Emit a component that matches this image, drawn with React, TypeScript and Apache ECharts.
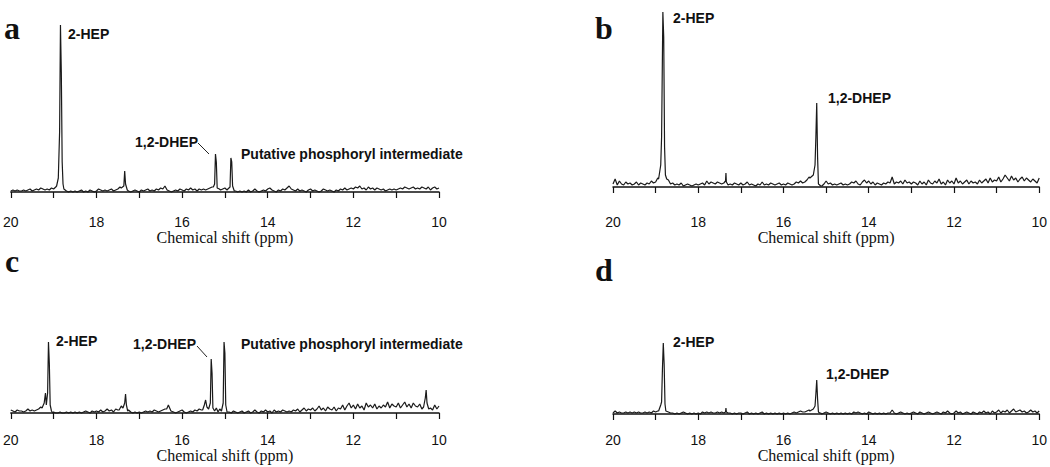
import React, { useEffect, useRef } from "react";
import * as echarts from "echarts";

// Chemical shift axis
const PPM_MIN = 10;
const PPM_MAX = 20;
const PPM_STEP = 0.05; // spacing of the baseline (noise) samples, from 20 down to 10
const tickLabels = ["20", "18", "16", "14", "12", "10"];
const axisName = "Chemical shift (ppm)";

// Baseline samples (arbitrary intensity), null where a peak list takes over
const noiseA = [
  1, 2, 1, 2, 1, 1, 2, 1, 2, 3,
  1, 2, 3, 2, 4, 3, 2, 3, 2, 4,
  3, 5, null, null, null, 3, 1, 0, 1, 0,
  1, 0, 1, 2, 0, 1, 0, 2, 1, 0,
  1, 3, 2, 1, 2, 1, 2, 3, 1, 2,
  3, 5, null, null, null, 1, 0, 1, 2, 1,
  0, 2, 1, 2, 3, 1, 2, 1, 3, 2,
  4, 3, 6, 2, 1, 0, 1, 2, 1, 3,
  2, 1, 3, 2, 4, 2, 3, 1, 3, 2,
  3, 2, 3, 4, 5, null, null, null, 2, 3,
  4, 2, null, null, null, 1, 0, 1, 0, 1,
  0, 2, 0, 1, 3, 1, 0, 1, 2, 1,
  3, 4, 2, 1, 0, 2, 1, 3, 2, 4,
  6, 3, 2, 1, 3, 1, 2, 1, 0, 2,
  3, 1, 2, 1, 0, 1, 3, 2, 1, 2,
  1, 0, 2, 1, 3, 2, 4, 2, 3, 4,
  3, 5, 4, 6, 3, 4, 2, 5, 3, 4,
  2, 4, 3, 2, 3, 1, 2, 3, 2, 3,
  2, 3, 4, 3, 5, 4, 3, 4, 5, 3,
  4, 3, 5, 4, 3, 5, 2, 4, 5, 3, 4,
];
const peaksA = [
  [18.93, 6], [18.89, 14], [18.86, 60], [18.84, 167], [18.82, 120], [18.8, 30], [18.78, 8], [18.76, 3],
  [17.42, 4], [17.36, 6], [17.34, 21], [17.32, 8], [17.28, 2],
  [15.27, 5], [15.24, 8], [15.22, 38], [15.2, 30], [15.18, 4], [15.13, 3],
  [14.93, 3], [14.88, 5], [14.86, 34], [14.84, 30], [14.82, 6], [14.78, 1],
];

const noiseB = [
  3, 8, 2, 6, 3, 2, 5, 3, 4, 2,
  3, 5, 2, 4, 3, 2, 4, 3, 6, 4,
  5, 9, null, null, null, null, 7, 3, 4, 2,
  3, 2, 4, 1, 2, 3, 2, 1, 2, 3,
  2, 3, 4, 2, 6, 3, 5, 4, 3, 5,
  4, 3, null, null, null, 3, 2, 4, 3, 2,
  4, 2, 3, 5, 2, 3, 2, 1, 3, 2,
  5, 2, 3, 2, 4, 3, 2, 3, 4, 2,
  3, 2, 4, 3, 2, 3, 5, 4, 6, 4,
  5, 7, 10, null, null, null, null, 2, 1, 3,
  6, 3, 4, 2, 3, 2, 3, 4, 2, 3,
  2, 3, 5, 4, 6, 3, 2, 5, 7, 4,
  6, 3, 5, 2, 4, 3, 2, 4, 3, 5,
  4, 10, 3, 5, 4, 6, 3, 7, 4, 5,
  3, 5, 4, 2, 6, 3, 5, 2, 7, 4,
  3, 6, 4, 8, 3, 5, 2, 7, 4, 6,
  3, 9, 4, 6, 3, 5, 7, 3, 6, 4,
  5, 3, 7, 4, 6, 8, 4, 9, 5, 7,
  6, 10, 5, 8, 12, 9, 6, 11, 7, 9,
  5, 8, 10, 6, 9, 7, 5, 8, 6, 4, 9,
];
const peaksB = [
  [18.93, 8], [18.88, 22], [18.86, 50], [18.83, 175], [18.81, 150], [18.79, 40], [18.77, 12], [18.74, 8],
  [17.4, 4], [17.36, 6], [17.35, 14], [17.34, 5], [17.3, 2],
  [15.38, 9], [15.3, 12], [15.26, 22], [15.24, 50], [15.22, 84], [15.2, 30], [15.18, 3], [15.13, 1],
];

const noiseC = [
  3, 2, 1, 3, 2, 2, 1, 2, 4, 2,
  3, 2, 3, 4, 6, null, null, null, null, null,
  1, 0, 0, 1, 0, 0, 1, 0, 1, 0,
  1, 0, 1, 0, 1, 2, 1, 0, 2, 1,
  2, 1, 3, 1, 2, 4, 2, 3, 1, 4,
  3, null, null, null, null, 3, 1, 0, 1, 0,
  1, 0, 1, 2, 1, 2, 1, 3, 2, 1,
  2, 3, 4, null, null, 2, 1, 0, 1, 2,
  3, 1, 0, 1, 2, 1, 3, 2, 4, 3,
  null, null, null, null, null, null, null, null, null, null,
  null, null, 1, 0, 2, 1, 0, 1, 2, 0,
  1, 2, 0, 1, 3, 1, 0, 2, 1, 3,
  1, 2, 0, 3, 1, 2, 1, 3, 2, 1,
  2, 1, 3, 2, 4, 1, 3, 5, 2, 4,
  3, 5, 2, 4, 7, 3, 5, 2, 6, 4,
  3, 6, 2, 5, 4, 8, 3, 7, 10, 5,
  8, 4, 9, 5, 7, 3, 10, 6, 8, 5,
  9, 4, 7, 5, 8, 6, 11, 5, 9, 7,
  6, 10, 5, 8, 11, 6, 9, 5, 10, 7,
  6, 9, 4, null, null, null, 5, 3, 8, 4, 7,
];
const peaksC = [
  [19.27, 5], [19.22, 10], [19.19, 20], [19.17, 8], [19.14, 20], [19.12, 71], [19.1, 50], [19.08, 8], [19.05, 2], [19.02, 0],
  [17.47, 3], [17.42, 7], [17.38, 5], [17.34, 10], [17.32, 19], [17.3, 8], [17.27, 2],
  [16.36, 4], [16.32, 8], [16.29, 5], [16.26, 2],
  [15.52, 3], [15.48, 8], [15.45, 13], [15.42, 6], [15.38, 4], [15.34, 10], [15.32, 54], [15.3, 40], [15.28, 5],
  [15.24, 2], [15.2, 5], [15.16, 1], [15.12, 4], [15.08, 2], [15.04, 10], [15.02, 71], [15.0, 60], [14.98, 8], [14.95, 1],
  [10.36, 6], [10.32, 15], [10.3, 23], [10.28, 10], [10.24, 4],
];

const noiseD = [
  1, 3, 1, 2, 1, 1, 2, 1, 2, 1,
  2, 1, 2, 1, 1, 2, 1, 2, 1, 3,
  2, 3, null, null, null, null, 2, 1, 1, 0,
  1, 0, 1, 2, 1, 0, 1, 0, 1, 0,
  1, 0, 2, 1, 2, 1, 2, 1, 1, 2,
  1, 2, null, null, null, 1, 0, 1, 0, 1,
  1, 0, 1, 2, 0, 1, 0, 1, 0, 1,
  2, 0, 1, 0, 1, 0, 1, 0, 1, 0,
  1, 0, 1, 0, 1, 2, 1, 2, 3, 2,
  2, 3, 4, null, null, null, null, 1, 0, 1,
  2, 1, 0, 1, 0, 1, 0, 1, 0, 1,
  0, 1, 0, 2, 1, 2, 1, 0, 1, 0,
  2, 1, 0, 1, 0, 1, 0, 1, 0, 1,
  1, 4, 1, 0, 1, 2, 1, 0, 1, 0,
  1, 2, 1, 0, 2, 1, 0, 1, 2, 1,
  0, 1, 2, 1, 0, 2, 1, 3, 1, 0,
  1, 3, 1, 2, 0, 1, 2, 1, 0, 2,
  1, 0, 2, 1, 3, 1, 2, 0, 3, 1,
  2, 4, 1, 3, 2, 4, 1, 3, 5, 2,
  3, 4, 2, 3, 1, 2, 4, 2, 3, 1, 3,
];
const peaksD = [
  [18.93, 3], [18.88, 9], [18.86, 12], [18.84, 45], [18.82, 71], [18.8, 50], [18.78, 10], [18.76, 3],
  [17.4, 1], [17.36, 2], [17.35, 6], [17.34, 2], [17.3, 1],
  [15.38, 3], [15.3, 5], [15.26, 8], [15.24, 20], [15.22, 34], [15.2, 15], [15.18, 2], [15.13, 1],
];

function buildSpectrum(noise: (number | null)[], peaks: number[][]) {
  const pts: number[][] = [];
  noise.forEach((v, i) => {
    if (v !== null) pts.push([+(PPM_MAX - i * PPM_STEP).toFixed(2), v]);
  });
  peaks.forEach((p) => pts.push([p[0], p[1]]));
  pts.sort((a, b) => b[0] - a[0]);
  return pts;
}

const panels = [
  { noise: noiseA, peaks: peaksA, grid: { left: 10, top: 12, width: 429, height: 193 }, yMin: -13, yMax: 180 },
  { noise: noiseB, peaks: peaksB, grid: { left: 613, top: 10, width: 430, height: 195 }, yMin: -18, yMax: 177 },
  { noise: noiseC, peaks: peaksC, grid: { left: 10, top: 330, width: 429, height: 93 }, yMin: -10, yMax: 83 },
  { noise: noiseD, peaks: peaksD, grid: { left: 613, top: 330, width: 430, height: 93 }, yMin: -9, yMax: 84 },
];

const SANS = "Arial, 'Liberation Sans', sans-serif";
const SERIF = "'Times New Roman', 'Liberation Serif', serif";

function letter(text: string, x: number, y: number) {
  return {
    type: "text",
    x,
    y,
    style: { text, fontFamily: SERIF, fontWeight: "bold", fontSize: 32, fill: "#111", verticalAlign: "middle", align: "left" },
  };
}
function note(text: string, x: number, y: number) {
  return {
    type: "text",
    x,
    y,
    style: { text, fontFamily: SANS, fontWeight: "bold", fontSize: 14, fill: "#111", verticalAlign: "middle", align: "left" },
  };
}
function leader(x1: number, y1: number, x2: number, y2: number) {
  return { type: "line", shape: { x1, y1, x2, y2 }, style: { stroke: "#222", lineWidth: 1 } };
}

export default function App() {
  const ref = useRef<HTMLDivElement>(null);
  useEffect(() => {
    document.body.style.margin = "0";
    if (!ref.current) return;
    const chart = echarts.init(ref.current, null, { renderer: "svg" });
    const grids = panels.map((p) => ({ ...p.grid, containLabel: false }));
    const xAxes = panels.map((_, i) => ({
      type: "value",
      gridIndex: i,
      min: PPM_MIN,
      max: PPM_MAX,
      interval: 1,
      inverse: true,
      splitLine: { show: false },
      axisLine: { show: true, lineStyle: { color: "#111", width: 1.5 } },
      axisTick: { show: true, length: 6, lineStyle: { color: "#111", width: 1.2 } },
      axisLabel: {
        margin: 10,
        fontSize: 14,
        fontFamily: SANS,
        color: "#111",
        formatter: (v: number) => (tickLabels.includes(String(Math.round(v))) && Math.abs(v - Math.round(v)) < 1e-6 ? String(Math.round(v)) : ""),
      },
      name: axisName,
      nameLocation: "middle",
      nameGap: 24,
      nameTextStyle: { fontFamily: SERIF, fontSize: 16, color: "#111" },
    }));
    const yAxes = panels.map((p, i) => ({
      type: "value",
      gridIndex: i,
      min: p.yMin,
      max: p.yMax,
      show: false,
    }));
    const series = panels.map((p, i) => ({
      type: "line",
      xAxisIndex: i,
      yAxisIndex: i,
      data: buildSpectrum(p.noise, p.peaks),
      showSymbol: false,
      symbol: "none",
      lineStyle: { color: "#1a1a1a", width: 1.2 },
      silent: true,
    }));
    chart.setOption({
      animation: false,
      backgroundColor: "#fff",
      grid: grids,
      xAxis: xAxes,
      yAxis: yAxes,
      series,
      graphic: [
        letter("a", 4, 28),
        letter("b", 595, 28),
        letter("c", 5, 261),
        letter("d", 595, 270),
        note("2-HEP", 68, 34),
        note("1,2-DHEP", 135, 142),
        leader(198, 143, 209, 154),
        note("Putative phosphoryl intermediate", 241, 154),
        note("2-HEP", 673, 18),
        note("1,2-DHEP", 828, 98),
        note("2-HEP", 56, 341),
        note("1,2-DHEP", 133, 344),
        leader(197, 346, 207, 357),
        note("Putative phosphoryl intermediate", 241, 344),
        note("2-HEP", 673, 342),
        note("1,2-DHEP", 826, 374),
      ],
    });
    return () => chart.dispose();
  }, []);
  return <div ref={ref} style={{ width: 1050, height: 467 }} />;
}
